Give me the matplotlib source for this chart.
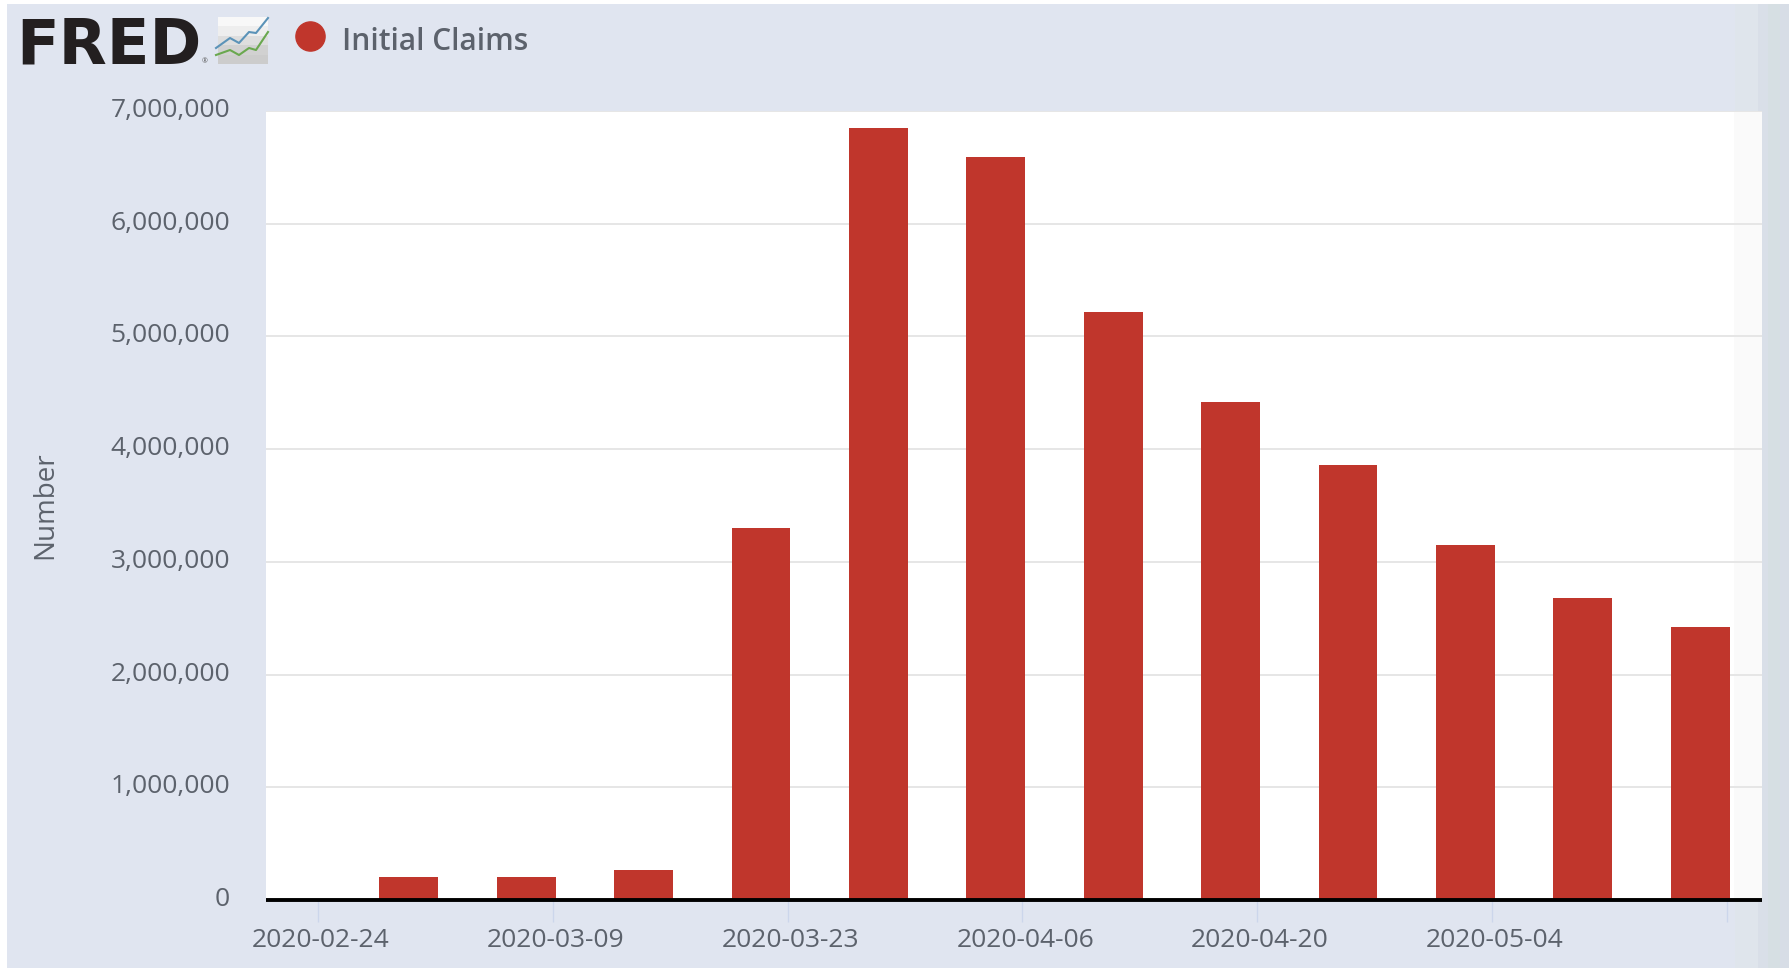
import matplotlib
matplotlib.use('Agg')
import matplotlib.pyplot as plt
import matplotlib.patches as patches
from matplotlib.ticker import FuncFormatter
from matplotlib.transforms import ScaledTranslation
import pandas as pd

plt.rcParams['font.family'] = ['Open Sans', 'DejaVu Sans']

# weekly initial claims
weeks = ['2020-02-29', '2020-03-07', '2020-03-14', '2020-03-21', '2020-03-28', '2020-04-04',
         '2020-04-11', '2020-04-18', '2020-04-25', '2020-05-02', '2020-05-09', '2020-05-16']
claims = [200000, 200000, 270000, 3300000, 6850000, 6590000,
          5220000, 4420000, 3860000, 3150000, 2680000, 2420000]
tick_dates = ['2020-02-24', '2020-03-09', '2020-03-23', '2020-04-06', '2020-04-20', '2020-05-04', '2020-05-18']
tick_labels = ['2020-02-24', '2020-03-09', '2020-03-23', '2020-04-06', '2020-04-20', '2020-05-04', '']
y_ticks = [0, 1000000, 2000000, 3000000, 4000000, 5000000, 6000000, 7000000]

W, H = 1789, 968
BG = '#e0e5f0'
TXT = '#5c626c'
RED = '#c0362c'


def fx(px):
    return px / W


def fy(px):
    return 1 - px / H


def strip(x0, x1, color, z=-4):
    fig.patches.append(patches.Rectangle((fx(x0), 0), fx(x1 - x0), fy(4), transform=fig.transFigure,
                                         facecolor=color, edgecolor='none', zorder=z))


fig = plt.figure(figsize=(W / 100, H / 100), dpi=100, facecolor='white')

# page background and the grey strips on the right
strip(7, 1735, BG, -5)
strip(1735, 1758, '#dfe5ec')
strip(1758, 1768, '#d9dfe8')
strip(1768, 1780, '#d6dfe3')
strip(1780, 1789, '#d7dde6')

ax = fig.add_axes([fx(266), fy(900), fx(1762 - 266), fy(111) - fy(900)])
ax.set_facecolor('white')

dates = pd.to_datetime(weeks) + pd.Timedelta(hours=10)
ticks = pd.to_datetime(tick_dates)
ax.bar(dates, claims, width=3.5, color=RED, zorder=3)

x_end = pd.Timestamp('2020-02-24') + pd.Timedelta(days=86.1)
ax.set_xlim(pd.Timestamp('2020-02-24') - pd.Timedelta(days=3.1), x_end)
ax.set_ylim(0, 7000000)

# lighter band at the right end of the plot
ax.axvspan(pd.Timestamp('2020-05-18') + pd.Timedelta(hours=10), x_end, color='#fafafa', lw=0, zorder=0)

ax.set_yticks(y_ticks)
ax.yaxis.set_major_formatter(FuncFormatter(lambda v, p: f'{int(v):,}'))
ax.grid(axis='y', color='#e6e6e6', lw=1.4, zorder=1)
ax.set_axisbelow(True)
ax.tick_params(axis='y', length=0, pad=26, labelsize=19, labelcolor=TXT)

ax.set_xticks(ticks)
ax.set_xticklabels(tick_labels)
ax.tick_params(axis='x', length=16, width=1, color='#ccd6eb', pad=4, labelsize=19, labelcolor=TXT)

# labels sit a little off their ticks in the original
for lab in ax.get_yticklabels():
    lab.set_transform(lab.get_transform() + ScaledTranslation(0, 2.5 / 72, fig.dpi_scale_trans))
for lab in ax.get_xticklabels():
    lab.set_transform(lab.get_transform() + ScaledTranslation(2 / 72, 0, fig.dpi_scale_trans))

for s in ['top', 'left', 'right']:
    ax.spines[s].set_visible(False)
ax.spines['bottom'].set_color('black')
ax.spines['bottom'].set_linewidth(2.8)
ax.spines['bottom'].set_capstyle('butt')
ax.spines['bottom'].set_zorder(5)

fig.text(fx(45), fy(505), 'Number', rotation=90, ha='center', va='center', fontsize=20, color=TXT)

# logo
fig.text(fx(16), fy(63), 'FRED', fontsize=45, fontweight='bold', family=['DejaVu Sans'],
         color='#231f20', ha='left', va='baseline')
fig.text(fx(205), fy(62), '®', fontsize=5, color='#555555', ha='center', va='center')
icon = fig.add_axes([fx(218), fy(64), fx(50), fy(17) - fy(64)])
icon.imshow([[0.97], [0.93], [0.87], [0.82], [0.80]], cmap='gray', vmin=0, vmax=1, aspect='auto')
icon.axis('off')
icon_x = [216, 230, 239, 249, 256, 268]
icon_blue = [48, 38, 43, 32, 33, 18]
icon_green = [55, 50, 55, 48, 50, 32]
fig.add_artist(plt.Line2D([fx(v) for v in icon_x], [fy(v) for v in icon_blue], color='#5b93b8', lw=1.5))
fig.add_artist(plt.Line2D([fx(v) for v in icon_x], [fy(v) for v in icon_green], color='#6aa84f', lw=1.5))

# legend
fig.add_artist(plt.Line2D([fx(310)], [fy(36)], marker='o', ms=21, color=RED, ls='none'))
fig.text(fx(342), fy(42), 'Initial Claims', fontsize=21.5, color=TXT, fontweight='semibold', ha='left', va='center')

fig.savefig('out.png', dpi=100, facecolor='white')
